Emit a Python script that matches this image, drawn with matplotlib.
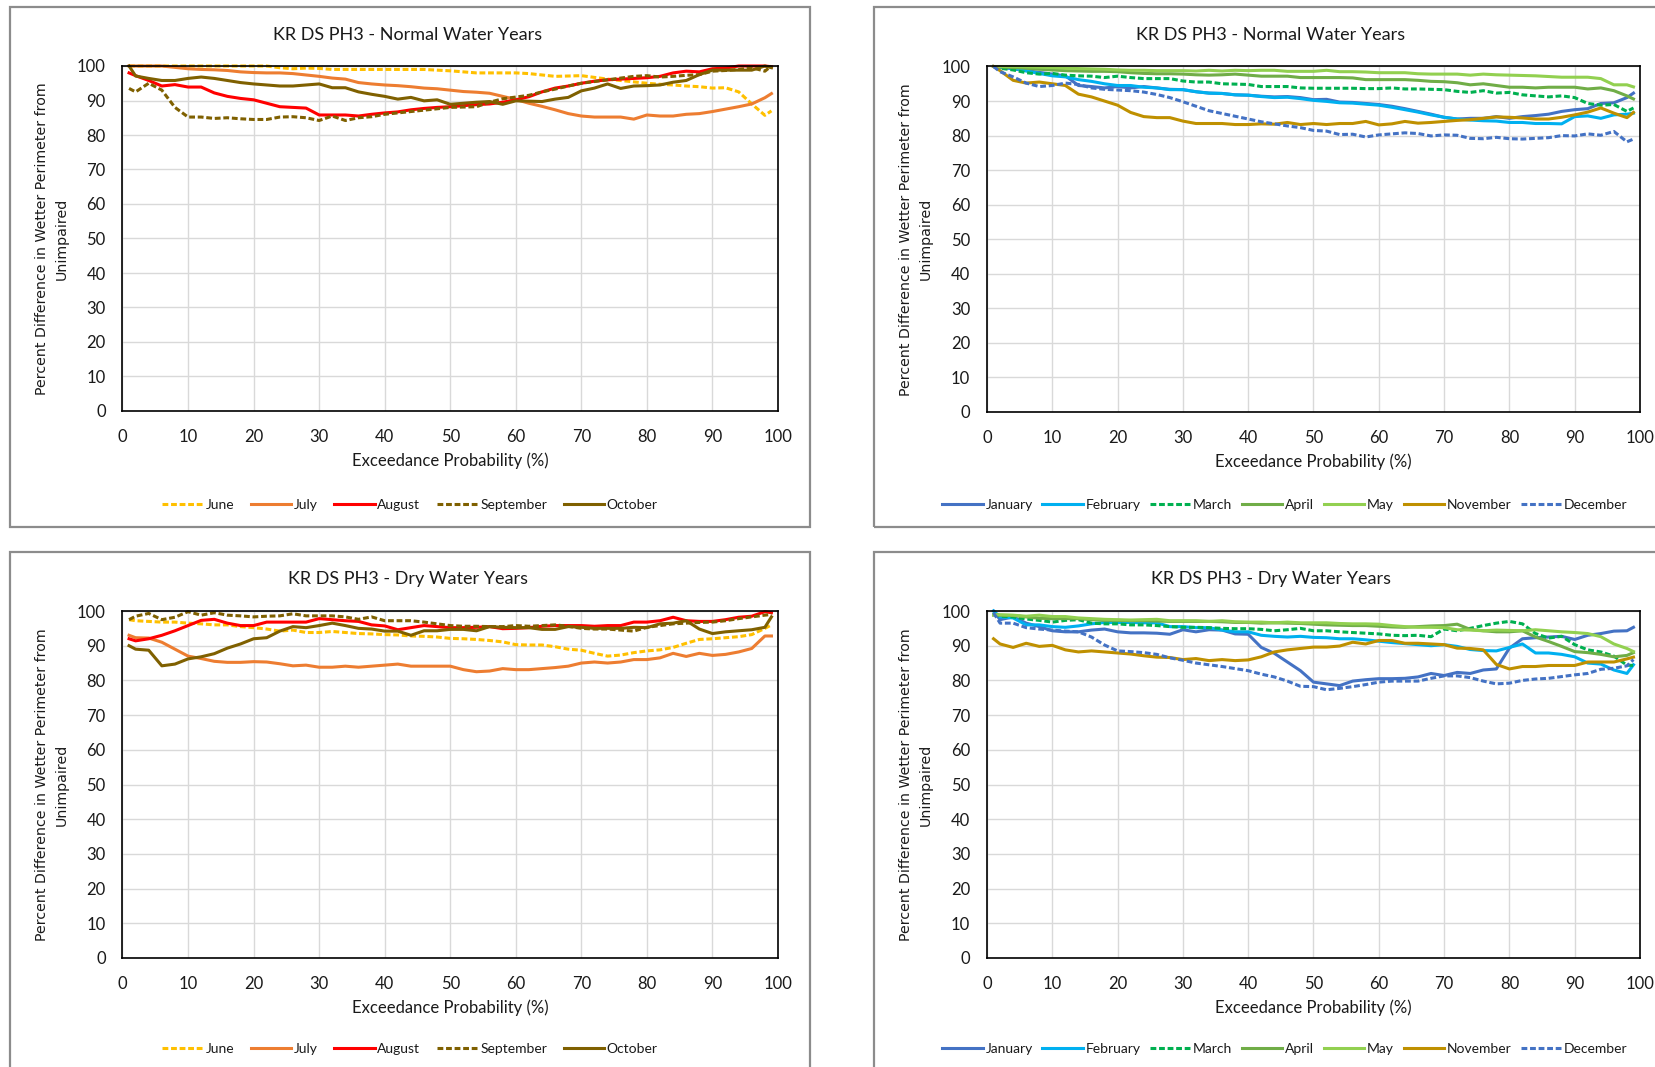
import matplotlib
matplotlib.use('Agg')
import matplotlib.pyplot as plt
from matplotlib.patches import Rectangle

plt.rcParams['font.family'] = ['Lato', 'DejaVu Sans']

# ---------------------------------------------------------------
# data
# ---------------------------------------------------------------
EXCEED = [1, 2, 4, 6, 8, 10, 12, 14, 16, 18,
          20, 22, 24, 26, 28, 30, 32, 34, 36, 38,
          40, 42, 44, 46, 48, 50, 52, 54, 56, 58,
          60, 62, 64, 66, 68, 70, 72, 74, 76, 78,
          80, 82, 84, 86, 88, 90, 92, 94, 96, 98, 99]

# Normal water years, summer/autumn
N_JUN = [100, 100, 100, 100, 100, 100, 100, 100, 100, 100,
         100, 100, 99.5, 99.2, 99.4, 99.3, 99, 99, 99, 99,
         99, 99, 99, 99, 98.8, 98.6, 98.3, 98, 98, 98,
         98, 97.8, 97.4, 97, 97.1, 97.2, 96.7, 96.2, 95.8, 95.4,
         95, 94.7, 94.5, 94.2, 94, 93.6, 93.7, 92.5, 89, 85.7, 87]
N_JUL = [100, 100, 100, 100, 99.6, 99.2, 99, 98.9, 98.7, 98.3,
         98.1, 98, 98, 97.8, 97.4, 97, 96.5, 96.2, 95.2, 94.8,
         94.5, 94.3, 94, 93.6, 93.4, 93, 92.6, 92.4, 92.1, 91.2,
         90.3, 89.2, 88.3, 87.3, 86.2, 85.5, 85.2, 85.2, 85.2, 84.6,
         85.8, 85.5, 85.5, 86, 86.2, 86.8, 87.5, 88.2, 89, 90.8, 92]
N_AUG = [98, 97.2, 95.8, 94.2, 94.6, 93.9, 93.9, 92.2, 91.2, 90.6,
         90.2, 89.2, 88.2, 88, 87.8, 85.8, 85.8, 85.8, 85.5, 86,
         86.4, 86.7, 87.3, 87.7, 88, 88.2, 88.5, 88.8, 89, 89.5,
         90.2, 91.1, 92.5, 93.6, 94.2, 95, 95.6, 96, 96.2, 96.4,
         96.6, 97, 98, 98.5, 98.3, 99.2, 99.4, 100, 100, 100, 99.8]
N_SEP = [93.5, 92.5, 95, 93, 88, 85.2, 85.2, 84.8, 85, 84.7,
         84.5, 84.5, 85.2, 85.3, 85, 84.2, 85.5, 84.2, 85, 85.3,
         86, 86.4, 86.8, 87.2, 87.6, 88, 88.1, 88.2, 89.5, 90.5,
         91, 91.5, 92.5, 93.3, 94.2, 95, 95.5, 96, 96.5, 97,
         97.2, 96.8, 97, 97.3, 97.5, 98.5, 98.7, 99, 99.5, 98.5, 100]
N_OCT = [100, 97.1, 96.4, 95.8, 95.8, 96.4, 96.8, 96.4, 95.8, 95.2,
         94.8, 94.5, 94.2, 94.2, 94.5, 94.8, 93.7, 93.7, 92.5, 91.8,
         91.2, 90.4, 90.9, 89.9, 90.2, 88.9, 89.2, 89.5, 89.7, 88.9,
         89.9, 89.8, 89.7, 90.4, 90.9, 92.8, 93.6, 94.8, 93.5, 94.2,
         94.3, 94.5, 95.3, 95.8, 97.5, 98.8, 98.8, 98.8, 98.8, 100, 99.5]

# Normal water years, winter/spring
N_JAN = [100, 99.8, 99.3, 98.8, 98.3, 97.8, 97.3, 94.5, 94.2, 93.8,
         94.2, 93.8, 94.2, 93.8, 93.4, 93.3, 92.7, 92.3, 92.2, 91.8,
         91.7, 91.4, 91.2, 91.3, 91, 90.4, 90.5, 89.7, 89.6, 89.3,
         89, 88.5, 87.8, 87, 86.2, 85.3, 84.8, 85, 85, 85.5,
         85, 85.5, 85.8, 86.2, 87, 87.5, 87.8, 89.3, 89.5, 91, 92.3]
N_FEB = [100, 99.8, 99.5, 98.7, 98, 97.3, 97, 96.2, 95.7, 95,
         94.5, 94.5, 94, 93.8, 93.3, 93.3, 92.7, 92.3, 92.2, 91.8,
         91.7, 91.3, 91, 91.1, 90.7, 90.2, 89.9, 89.5, 89.4, 89.1,
         88.8, 88.2, 87.5, 86.8, 86, 85.3, 84.8, 84.5, 84.3, 84.2,
         83.8, 83.8, 83.5, 83.5, 83.4, 85.5, 85.7, 85, 86, 86.2, 86.5]
N_MAR = [100, 99.5, 99, 98.2, 97.8, 98, 97.5, 97.3, 97.2, 96.8,
         97.2, 96.8, 96.5, 96.5, 96.5, 95.8, 95.5, 95.5, 95, 94.9,
         94.8, 94.2, 94.2, 94.2, 93.8, 93.7, 93.7, 93.7, 93.7, 93.6,
         93.6, 93.8, 93.5, 93.5, 93.4, 93.3, 92.8, 92.5, 93, 92.3,
         92.5, 91.8, 91.5, 91.2, 91.5, 91, 89.3, 88.8, 89, 87, 88]
N_APR = [100, 99.9, 99.7, 99.5, 99.2, 99, 98.8, 98.7, 98.6, 98.6,
         98.5, 98.2, 98, 97.9, 97.9, 97.8, 97.6, 97.5, 97.6, 97.8,
         97.5, 97.2, 97.2, 97.2, 96.8, 96.8, 96.8, 96.8, 96.7, 96.2,
         96.2, 96.2, 96.2, 96, 95.7, 95.6, 95.3, 94.7, 95, 94.5,
         94, 94, 93.8, 94, 94, 94, 93.5, 93.8, 93, 91.5, 90.6]
N_MAY = [100, 100, 100, 99.9, 99.8, 99.7, 99.5, 99.4, 99.3, 99.2,
         99, 98.9, 98.9, 98.8, 98.8, 98.8, 98.7, 98.9, 98.7, 98.9,
         98.8, 98.9, 98.9, 98.6, 98.6, 98.6, 98.9, 98.5, 98.5, 98.4,
         98.2, 98.2, 98.2, 97.9, 97.8, 97.8, 97.8, 97.5, 97.8, 97.6,
         97.5, 97.4, 97.3, 97.1, 96.9, 96.9, 96.9, 96.5, 94.7, 94.7, 94.1]
N_NOV = [100, 98.8, 96, 95.2, 95.5, 95, 94.5, 92, 91.2, 90,
         88.8, 86.7, 85.5, 85.2, 85.2, 84.2, 83.5, 83.5, 83.5, 83.2,
         83.2, 83.4, 83.3, 83.8, 83.2, 83.5, 83.2, 83.5, 83.5, 84.1,
         83.1, 83.4, 84.1, 83.6, 83.8, 84.1, 84.4, 84.6, 85, 85.4,
         85.3, 85.1, 84.8, 84.8, 85.3, 86, 86.8, 88, 86.5, 85.2, 86.7]
N_DEC = [100, 98.5, 97, 95.2, 94.2, 94.5, 95.2, 94.8, 93.8, 93.4,
         93.2, 93, 92.6, 91.9, 91, 89.8, 88.5, 87.2, 86.4, 85.6,
         84.8, 84, 83.4, 82.8, 82.3, 81.5, 81.3, 80.3, 80.4, 79.6,
         80.2, 80.5, 80.8, 80.6, 79.9, 80.2, 80.1, 79.2, 79.1, 79.5,
         79.1, 79, 79.2, 79.4, 80, 79.9, 80.5, 80.1, 81.2, 78.2, 79]

# Dry water years, summer/autumn
D_JUN = [97.5, 97.2, 97, 96.8, 96.8, 96.5, 96.3, 96, 96, 95.5,
         95.2, 94.8, 94.2, 94.5, 93.8, 93.8, 94.1, 93.8, 93.5, 93.4,
         93.2, 93.1, 92.8, 92.7, 92.5, 92.1, 92, 91.8, 91.5, 91.1,
         90.3, 90.2, 90.2, 89.7, 89, 88.7, 87.8, 87, 87.3, 88,
         88.5, 88.8, 89.5, 90.7, 91.8, 92, 92.3, 92.6, 93.2, 95, 96]
D_JUL = [93, 92.3, 92.2, 91, 89, 87, 86.3, 85.5, 85.2, 85.2,
         85.4, 85.3, 84.8, 84.2, 84.4, 83.8, 83.8, 84.1, 83.8, 84.1,
         84.4, 84.7, 84.1, 84.1, 84.1, 84.1, 83.1, 82.5, 82.7, 83.4,
         83.1, 83.1, 83.4, 83.7, 84.1, 85, 85.3, 85, 85.3, 86,
         86, 86.5, 87.8, 86.9, 87.8, 87.2, 87.5, 88.2, 89.2, 92.8, 92.8]
D_AUG = [92, 91.4, 92, 93, 94.3, 95.8, 97.3, 97.6, 96.5, 95.8,
         95.8, 96.8, 96.8, 96.8, 96.8, 97.8, 97.5, 97.2, 97, 96,
         95.7, 94.6, 95.2, 95.8, 95.5, 95.2, 95.2, 95.3, 95.5, 94.9,
         95, 95.2, 95.6, 95.8, 95.8, 95.8, 95.6, 95.8, 95.8, 96.8,
         96.8, 97.2, 98.2, 97.2, 97, 97, 97.5, 98.2, 98.5, 99.8, 99.5]
D_SEP = [97.5, 98.5, 99.3, 97.5, 98.2, 99.8, 98.8, 99.5, 98.8, 98.6,
         98.3, 98.5, 98.6, 99.2, 98.6, 98.6, 98.6, 98.3, 97.6, 98.3,
         97.2, 97.2, 97.2, 96.8, 96.3, 95.8, 95.6, 95.6, 95.5, 95.5,
         95.8, 95.6, 95.8, 96, 95.6, 95, 94.8, 94.8, 94.5, 94.2,
         95.3, 95.8, 96.3, 96.5, 96.7, 96.8, 97.2, 97.8, 98.3, 98.8, 99]
D_OCT = [90, 89, 88.7, 84.2, 84.7, 86.2, 86.8, 87.7, 89.3, 90.5,
         92, 92.3, 94.2, 95.5, 95.2, 95.8, 96.5, 95.8, 95, 94.8,
         94.2, 94.2, 93, 94.3, 94.3, 94.7, 94.7, 94.3, 95.5, 95.3,
         95.2, 95.2, 94.7, 94.7, 95.5, 95.3, 95, 95, 95, 95.3,
         95.2, 96.3, 96.5, 97.2, 94.8, 93.5, 94, 94.3, 94.6, 95.3, 98.3]

# Dry water years, winter/spring
D_JAN = [100, 97.5, 98.3, 96.5, 95.5, 94.3, 94, 94, 94.5, 94.8,
         94, 93.7, 93.7, 93.6, 93.3, 94.6, 94, 94.6, 94.5, 93.4,
         93.3, 89.5, 87.8, 85.3, 82.8, 79.5, 79, 78.5, 79.8, 80.2,
         80.5, 80.5, 80.6, 81, 82, 81.4, 82.3, 82, 83, 83.3,
         89.3, 92, 92.3, 92.5, 92.7, 91.8, 93, 93.5, 94.2, 94.3, 95.3]
D_FEB = [100, 98.3, 98, 96, 96, 95.5, 95.3, 95.7, 96.3, 96.7,
         96.7, 96.7, 96.6, 96.6, 95.5, 95.5, 95.2, 95.2, 94.5, 94,
         94, 93, 92.7, 92.5, 92.7, 92.4, 92.3, 92, 92, 91.7,
         91.3, 90.9, 90.6, 90.3, 90, 90.3, 89.8, 88.9, 88.6, 88.5,
         89.5, 90.5, 87.9, 87.9, 87.5, 86.8, 85, 84.7, 83, 82, 84.5]
D_MAR = [99, 98.5, 98.3, 97.7, 97.3, 96.8, 97.3, 97.5, 96.5, 96.3,
         96.3, 96, 96, 95.8, 95.5, 95.3, 95.3, 95.2, 95, 94.9,
         94.9, 94.7, 94.3, 94.6, 95, 94.3, 94.3, 94, 93.8, 93.6,
         93.4, 93, 92.9, 93, 92.6, 94.8, 94.3, 95, 95.8, 96.5,
         97, 96.3, 93.5, 92.2, 92.7, 90.3, 88.8, 88.2, 87, 84.4, 84.3]
D_APR = [98.8, 98.8, 98.7, 98.3, 97.9, 97.8, 97.8, 97.8, 97.5, 97.3,
         97.3, 97.2, 97.2, 97.1, 97, 97, 97, 97, 96.9, 96.7,
         96.7, 96.5, 96.6, 96.5, 96.4, 96.2, 96, 95.9, 95.8, 95.8,
         95.6, 95.4, 95.3, 95.5, 95.7, 95.8, 96.2, 94.7, 94.3, 94,
         94, 94.3, 92.5, 91.2, 89.8, 88.3, 88, 87.5, 86.8, 87.2, 88]
D_MAY = [99, 98.9, 98.8, 98.5, 98.8, 98.4, 98.4, 98, 97.8, 97.6,
         97.5, 97.4, 97.5, 97.6, 97.2, 97.2, 97.2, 97, 97.2, 96.9,
         96.8, 96.8, 96.6, 96.8, 96.6, 96.6, 96.6, 96.4, 96.3, 96.3,
         96.2, 95.8, 95.5, 95.3, 95.3, 95.2, 94.6, 94.5, 94.3, 94.5,
         94.4, 94.3, 94.6, 94.3, 94, 93.8, 93.5, 92.6, 90.5, 89.2, 88.3]
D_NOV = [92, 90.5, 89.5, 90.7, 89.8, 90.1, 88.8, 88.2, 88.5, 88.2,
         87.9, 87.6, 87.1, 86.7, 86.6, 86, 86.3, 85.7, 86, 85.7,
         85.9, 86.8, 88.2, 88.8, 89.2, 89.6, 89.6, 89.9, 91, 90.5,
         91.5, 91.5, 90.7, 90.7, 90.5, 90.3, 89.3, 89.2, 88.8, 84.6,
         83.3, 84, 84, 84.3, 84.3, 84.3, 85.3, 85.3, 85.3, 86.2, 86.7]
D_DEC = [99.5, 96.5, 96.5, 95.2, 94.8, 94.5, 94.2, 94, 92.5, 90.2,
         88.5, 88.3, 88, 87.5, 86.5, 85.8, 85, 84.5, 84, 83.4,
         82.8, 81.8, 81, 79.8, 78.3, 78.2, 77.3, 77.7, 78.2, 78.8,
         79.5, 79.8, 79.8, 79.8, 80.6, 81.3, 81.3, 80.8, 79.8, 79,
         79.2, 80, 80.4, 80.6, 81.1, 81.6, 82, 83.2, 83.5, 84.2, 86]

SUMMER_NAMES = ['June', 'July', 'August', 'September', 'October']
WINTER_NAMES = ['January', 'February', 'March', 'April', 'May', 'November', 'December']

# style per month: (colour, dashed?)
STYLE = {
    'June':      ('#FFC000', True),
    'July':      ('#ED7D31', False),
    'August':    ('#FF0000', False),
    'September': ('#7F6000', True),
    'October':   ('#7F6000', False),
    'January':   ('#4472C4', False),
    'February':  ('#00B0F0', False),
    'March':     ('#00B050', True),
    'April':     ('#70AD47', False),
    'May':       ('#92D050', False),
    'November':  ('#BF9000', False),
    'December':  ('#4472C4', True),
}

# ---------------------------------------------------------------
# figure
# ---------------------------------------------------------------
W, H = 1656, 1067
fig = plt.figure(figsize=(W / 100, H / 100), dpi=100, facecolor='white')


def fx(px):
    return px / W


def fy(py):
    return 1 - py / H


YLABEL = 'Percent Difference in Wetter Perimeter from\nUnimpaired'

panels = [
    # title, names, series, box (l, t, r, b), axes (l, t, r, b),
    # ylabel x, title x, legend x
    ('KR DS PH3 - Normal Water Years', SUMMER_NAMES,
     [N_JUN, N_JUL, N_AUG, N_SEP, N_OCT],
     (9.5, 7.5, 810, 527), (122.5, 66, 778, 411), 52, 408, 410),
    ('KR DS PH3 - Normal Water Years', WINTER_NAMES,
     [N_JAN, N_FEB, N_MAR, N_APR, N_MAY, N_NOV, N_DEC],
     (874, 7.5, 1710, 527), (987, 66.5, 1640, 412), 916, 1271, 1285),
    ('KR DS PH3 - Dry Water Years', SUMMER_NAMES,
     [D_JUN, D_JUL, D_AUG, D_SEP, D_OCT],
     (9.5, 552, 810, 1090), (122.5, 611, 778, 958), 52, 408, 410),
    ('KR DS PH3 - Dry Water Years', WINTER_NAMES,
     [D_JAN, D_FEB, D_MAR, D_APR, D_MAY, D_NOV, D_DEC],
     (874, 552, 1710, 1090), (987, 611, 1640, 958), 916, 1271, 1285),
]

for title, names, series, box, axr, ylx, tx, lx in panels:
    bl, bt, br, bb = box
    fig.patches.append(Rectangle((fx(bl), fy(bb)), fx(br - bl), (bb - bt) / H,
                                 transform=fig.transFigure, fill=False,
                                 edgecolor='#8C8C8C', linewidth=1.6, zorder=0))
    al, at, ar, ab = axr
    ax = fig.add_axes([fx(al), fy(ab), fx(ar - al), (ab - at) / H])
    for name, vals in zip(names, series):
        col, dashed = STYLE[name]
        ln, = ax.plot(EXCEED, vals, color=col, lw=2.2, label=name,
                      solid_joinstyle='round', clip_on=False)
        if dashed:
            ln.set_dashes((1.9, 0.9))
    ax.set_xlim(0, 100)
    ax.set_ylim(0, 100)
    ax.set_xticks(range(0, 101, 10))
    ax.set_yticks(range(0, 101, 10))
    ax.grid(True, color='#D9D9D9', lw=1.0)
    ax.set_axisbelow(True)
    ax.tick_params(length=0, labelsize=12, colors='#1a1a1a')
    ax.tick_params(axis='x', pad=13)
    ax.tick_params(axis='y', pad=12)
    for sp in ax.spines.values():
        sp.set_color('black')
        sp.set_linewidth(1.2)

    # title
    fig.text(fx(tx), fy(bt + 27), title, ha='center', va='center',
             fontsize=13, color='#1a1a1a')
    # x label
    fig.text(fx((al + ar) / 2), fy(ab + 50), 'Exceedance Probability (%)',
             ha='center', va='center', fontsize=12, color='#1a1a1a')
    # y label
    fig.text(fx(ylx), fy((at + ab) / 2), YLABEL, rotation=90,
             ha='center', va='center', multialignment='center',
             fontsize=10.2, family='DejaVu Sans', linespacing=1.55,
             color='#1a1a1a')
    # legend
    handles, labels = ax.get_legend_handles_labels()
    fig.legend(handles, labels, loc='center',
               bbox_to_anchor=(fx(lx), fy(bt + 497)),
               ncol=len(names), frameon=False, fontsize=10,
               handlelength=2.9, handletextpad=0.2,
               columnspacing=1.2 if len(names) == 5 else 0.7,
               labelcolor='#1a1a1a')

fig.savefig('out.png', dpi=100, facecolor='white')
